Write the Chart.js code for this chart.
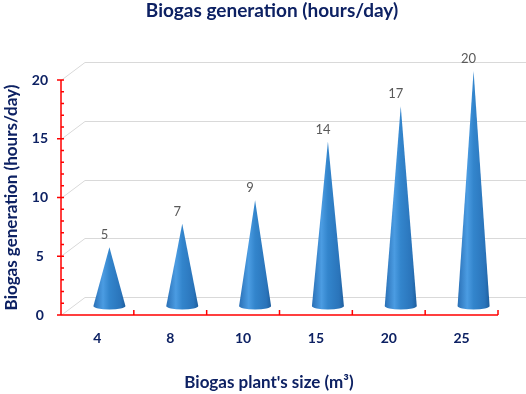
<!DOCTYPE html>
<html>
<head>
<meta charset="utf-8">
<script src="https://cdn.jsdelivr.net/npm/chart.js@4.4.0/dist/chart.umd.min.js"></script>
<style>
  html, body { margin: 0; padding: 0; background: #fff; }
</style>
</head>
<body>
<canvas id="grafico" width="526" height="394"></canvas>
<script>
const sizes = ['4', '8', '10', '15', '20', '25'];
const hours = [5, 7, 9, 14, 17, 20];
const yTicks = [0, 5, 10, 15, 20];
const titulo = 'Biogas generation (hours/day)';
const tituloY = 'Biogas generation (hours/day)';
const tituloX = "Biogas plant's size (m³)";

const navy = '#0d2163';
const rojo = '#ff0000';
const fuente = 'Lato, "Open Sans", sans-serif';
// desplazamiento 3D: conos a media profundidad, pared al fondo
const DX = 12, DY = -9;
const WX = 24, WY = -18;

const conos = {
  id: 'conos',
  beforeDatasetsDraw(chart) {
    const {ctx, chartArea, scales: {y}} = chart;
    ctx.save();
    ctx.strokeStyle = '#d9d9d9';
    ctx.lineWidth = 1;
    yTicks.forEach(v => {
      const py = Math.round(y.getPixelForValue(v)) + 0.5;
      ctx.beginPath();
      ctx.moveTo(chartArea.left, py);
      ctx.lineTo(chartArea.left + WX, py + WY);
      ctx.lineTo(chart.width, py + WY);
      ctx.stroke();
    });
    ctx.restore();
  },
  afterDatasetsDraw(chart) {
    const {ctx} = chart;
    const meta = chart.getDatasetMeta(0);
    ctx.save();
    meta.data.forEach((bar, i) => {
      const cx = bar.x + DX, tip = bar.y + DY, base = bar.base + DY;
      const rx = 16, ry = 3.5;
      const g = ctx.createLinearGradient(cx - rx, 0, cx + rx, 0);
      g.addColorStop(0, '#2a70b6');
      g.addColorStop(0.3, '#4b9ce2');
      g.addColorStop(0.5, '#3385cc');
      g.addColorStop(0.85, '#2a74ba');
      g.addColorStop(1, '#1f5f9e');
      ctx.fillStyle = g;
      ctx.beginPath();
      ctx.moveTo(cx - rx, base);
      ctx.lineTo(cx, tip);
      ctx.lineTo(cx + rx, base);
      ctx.ellipse(cx, base, rx, ry, 0, 0, Math.PI);
      ctx.closePath();
      ctx.fill();

      ctx.fillStyle = '#595959';
      ctx.font = '13px ' + fuente;
      ctx.textAlign = 'center';
      ctx.textBaseline = 'alphabetic';
      ctx.fillText(String(hours[i]), bar.x + 7, tip - 8);
    });
    ctx.restore();
  },
  afterDraw(chart) {
    const {ctx, chartArea: a, scales: {x, y}} = chart;
    ctx.save();
    ctx.strokeStyle = rojo;
    ctx.lineWidth = 1.5;
    ctx.beginPath();
    ctx.moveTo(a.left, a.top);
    ctx.lineTo(a.left, a.bottom);
    ctx.lineTo(a.right, a.bottom);
    // marcas del eje y
    for (let v = 0; v <= 20; v++) {
      const py = y.getPixelForValue(v);
      if (v % 5 === 0) {
        ctx.moveTo(a.left - 4, py);
        ctx.lineTo(a.left + 3, py);
      } else {
        ctx.moveTo(a.left, py);
        ctx.lineTo(a.left + 3, py);
      }
    }
    // marcas del eje x entre categorias
    const paso = (a.right - a.left) / sizes.length;
    for (let k = 1; k <= sizes.length; k++) {
      const px = a.left + k * paso;
      ctx.moveTo(px, a.bottom);
      ctx.lineTo(px, a.bottom - 5);
    }
    ctx.stroke();

    ctx.fillStyle = navy;
    ctx.textAlign = 'center';
    ctx.textBaseline = 'middle';
    ctx.font = 'bold 19px ' + fuente;
    ctx.fillText(titulo, 272, 11);
    ctx.font = 'bold 17px ' + fuente;
    ctx.fillText(tituloX, 269, 383);
    ctx.restore();
  }
};

const config = {
  type: 'bar',
  data: {
    labels: sizes,
    datasets: [{
      label: titulo,
      data: hours,
      backgroundColor: 'rgba(0,0,0,0)',
      borderWidth: 0
    }]
  },
  options: {
    responsive: false,
    devicePixelRatio: 1,
    animation: false,
    layout: { padding: { top: 80, right: 28, left: 0, bottom: 0 } },
    plugins: {
      legend: { display: false },
      tooltip: { enabled: false },
      title: { display: false }
    },
    scales: {
      x: {
        grid: { display: false, drawTicks: false },
        border: { display: false },
        ticks: { color: navy, font: { family: fuente, size: 14, weight: 'bold' }, padding: 15 },
        afterFit: (s) => { s.height = 79; }
      },
      y: {
        min: 0,
        max: 20,
        grid: { display: false, drawTicks: false },
        border: { display: false },
        ticks: { stepSize: 5, color: navy, crossAlign: 'center', padding: 13,
                 font: { family: fuente, size: 14, weight: 'bold' } },
        title: { display: true, text: tituloY, color: navy, padding: { top: 1, bottom: 0 },
                 font: { family: fuente, size: 17, weight: 'bold' } },
        afterFit: (s) => { s.width = 61; }
      }
    }
  },
  plugins: [conos]
};

const myChart = new Chart(document.getElementById('grafico'), config);
</script>
</body>
</html>
